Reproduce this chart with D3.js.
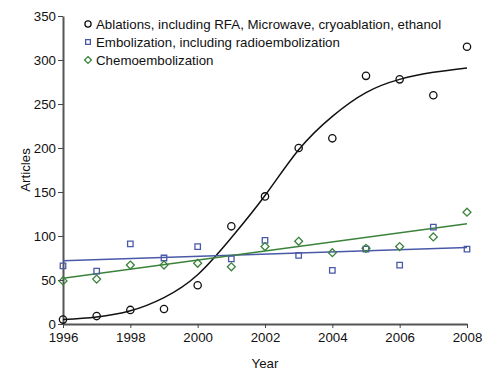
<!DOCTYPE html>
<html><head><meta charset="utf-8">
<script src="https://cdn.jsdelivr.net/npm/d3@7"></script>
<style>body{margin:0;background:#fff;} svg{display:block;} text{font-family:"Liberation Sans",Arial,sans-serif;}</style>
</head><body><svg id="c" width="491" height="377"></svg>
<script>
const years = [1996,1997,1998,1999,2000,2001,2002,2003,2004,2005,2006,2007,2008];
const ablations = [5,9,16,17,44,111,145,200,211,282,278,260,315];
const embolization = [66,60,91,75,88,74,95,78,61,85,67,110,85];
const chemo = [49,51,67,67,69,65,88,94,81,86,88,99,127];
const ablationFit = [5,8,15,30,56,98,146,198,236,263,278,286,291];
const fitYears = [1996,2008];
const embolizationFit = [72,87];
const chemoFit = [52,114];
const xTicks = [1996,1998,2000,2002,2004,2006,2008];
const yTicks = [0,50,100,150,200,250,300,350];
const legendLabels = ["Ablations, including RFA, Microwave, cryoablation, ethanol","Embolization, including radioembolization","Chemoembolization"];

const colBlack = "#111", colBlue = "#4a58a8", colGreen = "#3b833b";
const FS = 13.3;
const svg = d3.select("#c");
const x = d3.scaleLinear().domain([1996,2008]).range([63,467]);
const y = d3.scaleLinear().domain([0,350]).range([324,16]);

const xa = svg.append("g").attr("transform","translate(0,324)")
  .call(d3.axisBottom(x).tickValues(xTicks).tickFormat(d3.format("d")).tickSizeInner(4).tickSizeOuter(0).tickPadding(5));
const ya = svg.append("g").attr("transform","translate(63,0)")
  .call(d3.axisLeft(y).tickValues(yTicks).tickSizeInner(5).tickSizeOuter(0).tickPadding(2));
[xa,ya].forEach(a=>{
  a.selectAll("path").attr("stroke","#555").attr("stroke-width",2);
  a.selectAll("line").attr("stroke","#444").attr("stroke-width",1);
  a.selectAll("text").attr("font-size",FS).attr("fill","#111").attr("font-family","Liberation Sans, Arial, sans-serif");
});
svg.append("text").attr("x",265).attr("y",368).attr("text-anchor","middle").attr("font-size",FS).attr("fill","#111").text("Year");
svg.append("text").attr("transform","translate(30,170) rotate(-90)").attr("text-anchor","middle").attr("font-size",FS).attr("fill","#111").text("Articles");

// fits
svg.append("path").datum(years.map((yr,i)=>[yr,ablationFit[i]]))
  .attr("d", d3.line().x(d=>x(d[0])).y(d=>y(d[1])).curve(d3.curveNatural)).attr("fill","none").attr("stroke",colBlack).attr("stroke-width",1.5);
svg.append("path").datum(fitYears.map((yr,i)=>[yr,embolizationFit[i]]))
  .attr("d", d3.line().x(d=>x(d[0])).y(d=>y(d[1]))).attr("fill","none").attr("stroke",colBlue).attr("stroke-width",1.5);
svg.append("path").datum(fitYears.map((yr,i)=>[yr,chemoFit[i]]))
  .attr("d", d3.line().x(d=>x(d[0])).y(d=>y(d[1]))).attr("fill","none").attr("stroke",colGreen).attr("stroke-width",1.5);

const symC = d3.symbol().type(d3.symbolCircle).size(42);
const symS = d3.symbol().type(d3.symbolSquare).size(30);
const symD = d3.symbol().type(d3.symbolDiamond2).size(40);
function pts(vals, sym, col){
  svg.append("g").selectAll("path").data(vals).join("path")
    .attr("transform",(d,i)=>`translate(${x(years[i])},${y(d)})`)
    .attr("d",sym).attr("fill","none").attr("stroke",col).attr("stroke-width",1.3);
}
pts(embolization, symS, colBlue);
pts(chemo, symD, colGreen);
pts(ablations, symC, colBlack);

// legend
const lsyms = [[d3.symbol().type(d3.symbolCircle).size(30),colBlack],[d3.symbol().type(d3.symbolSquare).size(22),colBlue],[d3.symbol().type(d3.symbolDiamond2).size(30),colGreen]];
legendLabels.forEach((t,i)=>{
  const yy = 24 + i*18;
  svg.append("path").attr("transform",`translate(88,${yy})`).attr("d",lsyms[i][0]).attr("fill","none").attr("stroke",lsyms[i][1]).attr("stroke-width",1.3);
  svg.append("text").attr("x",96).attr("y",yy+4.6).attr("font-size",FS).attr("fill","#111").text(t);
});
</script></body></html>
